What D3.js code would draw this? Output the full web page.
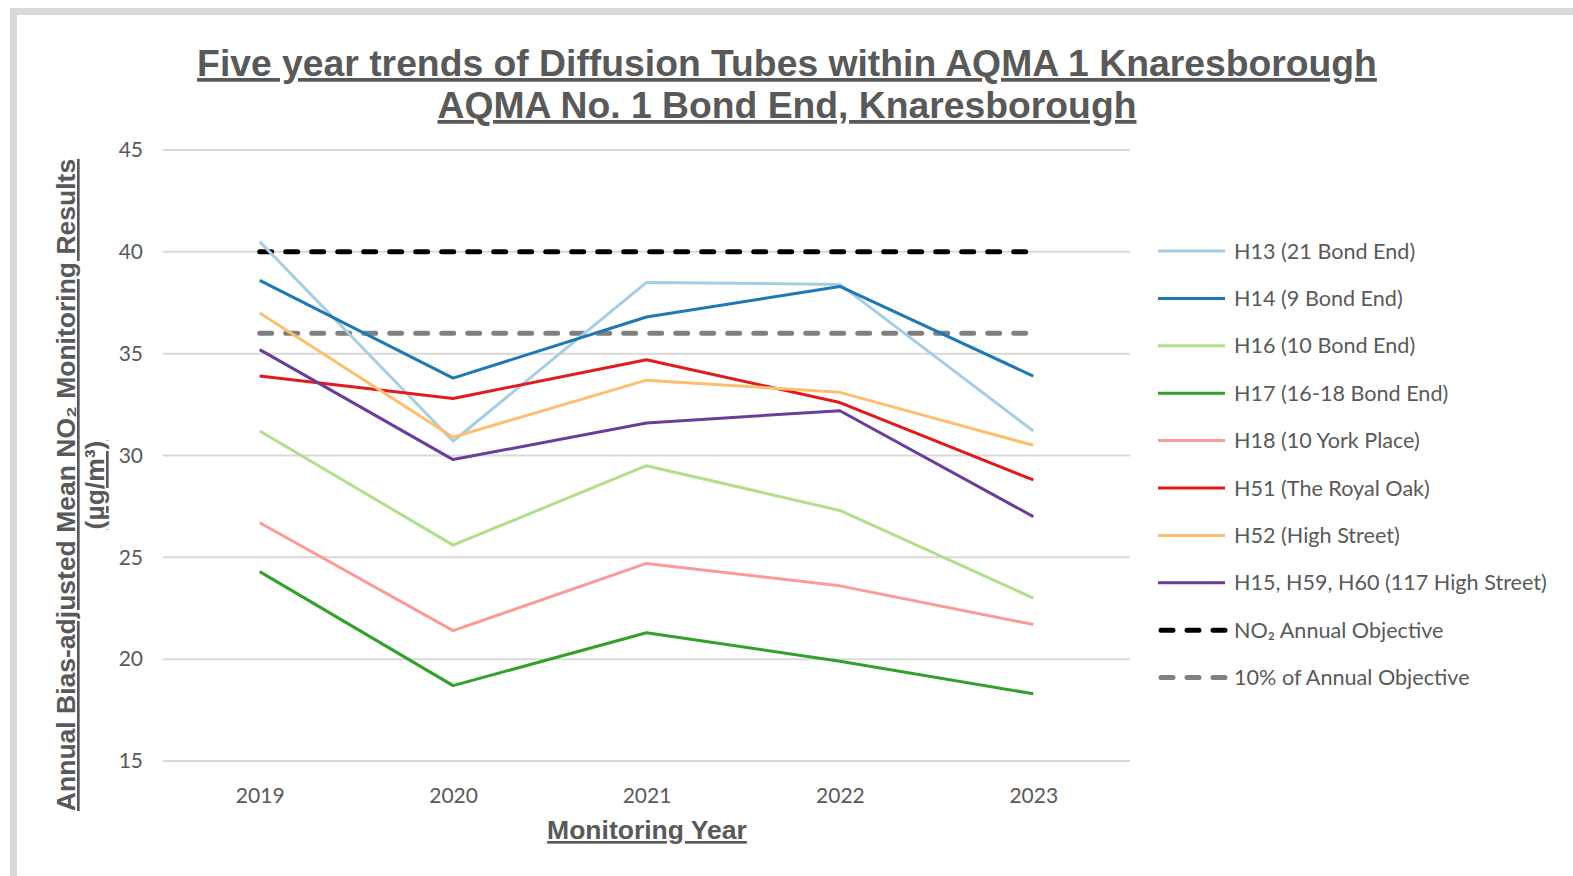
<!DOCTYPE html>
<html>
<head>
<meta charset="utf-8">
<script src="https://cdn.jsdelivr.net/npm/d3@7"></script>
<style>
  body { margin: 0; background: #fff; }
  text { fill: #595959; }
</style>
</head>
<body>
<div id="chart"></div>
<script>
var width = 1573, height = 876;

// data
var years = ["2019", "2020", "2021", "2022", "2023"];
var seriesNames = ["H13 (21 Bond End)", "H14 (9 Bond End)", "H16 (10 Bond End)", "H17 (16-18 Bond End)",
                   "H18 (10 York Place)", "H51 (The Royal Oak)", "H52 (High Street)", "H15, H59, H60 (117 High Street)"];
var h13 = [40.5, 30.7, 38.5, 38.4, 31.2];
var h14 = [38.6, 33.8, 36.8, 38.3, 33.9];
var h16 = [31.2, 25.6, 29.5, 27.3, 23.0];
var h17 = [24.3, 18.7, 21.3, 19.9, 18.3];
var h18 = [26.7, 21.4, 24.7, 23.6, 21.7];
var h51 = [33.9, 32.8, 34.7, 32.6, 28.8];
var h52 = [37.0, 30.9, 33.7, 33.1, 30.5];
var h15 = [35.2, 29.8, 31.6, 32.2, 27.0];
var objective = [40, 40, 40, 40, 40];
var objective10 = [36, 36, 36, 36, 36];
var yTicks = [15, 20, 25, 30, 35, 40, 45];

var seriesColors = ["#a6cee3", "#1f78b4", "#b2df8a", "#33a02c", "#fb9a99", "#e31a1c", "#fdbf6f", "#6a3d9a"];

var series = [h13, h14, h16, h17, h18, h51, h52, h15].map(function(v, i) {
  return {name: seriesNames[i], values: v, color: seriesColors[i], dash: null, width: 3};
});
var refLines = [
  {name: "NO\u2082 Annual Objective", values: objective, color: "#000", dash: "12,14", width: 5},
  {name: "10% of Annual Objective", values: objective10, color: "#808080", dash: "12,14", width: 5}
];

var svg = d3.select("#chart").append("svg")
    .attr("width", width)
    .attr("height", height);

// frame
svg.append("rect")
    .attr("x", 13.5).attr("y", 11.5)
    .attr("width", width + 20).attr("height", height + 20)
    .attr("fill", "none")
    .attr("stroke", "#d9d9d9")
    .attr("stroke-width", 7);

var x = d3.scalePoint().domain(years).range([163, 1130]).padding(0.5);
var y = d3.scaleLinear().domain([15, 45]).range([761, 150]);

// gridlines
svg.append("g")
  .selectAll("line")
  .data(yTicks)
  .enter().append("line")
    .attr("x1", 163).attr("x2", 1130)
    .attr("y1", function(d) { return y(d); })
    .attr("y2", function(d) { return y(d); })
    .attr("stroke", "#d9d9d9")
    .attr("stroke-width", 2);

var yAxis = svg.append("g")
    .attr("transform", "translate(163,0)")
    .call(d3.axisLeft(y).tickValues(yTicks).tickSize(0).tickPadding(20));
yAxis.select(".domain").remove();
yAxis.selectAll("text")
    .style("font-family", "Lato")
    .style("font-size", "21px")
    .attr("fill", "#595959");

var xAxis = svg.append("g")
    .attr("transform", "translate(0,761)")
    .call(d3.axisBottom(x).tickSize(0).tickPadding(27));
xAxis.select(".domain").remove();
xAxis.selectAll("text")
    .style("font-family", "Lato")
    .style("font-size", "21px")
    .attr("fill", "#595959");

var line = d3.line()
    .x(function(d, i) { return x(years[i]); })
    .y(function(d) { return y(d); });

svg.append("g")
  .selectAll("path")
  .data(refLines.concat(series))
  .enter().append("path")
    .attr("d", function(d) { return line(d.values); })
    .attr("fill", "none")
    .attr("stroke", function(d) { return d.color; })
    .attr("stroke-width", function(d) { return d.width; })
    .attr("stroke-dasharray", function(d) { return d.dash; })
    .attr("stroke-linecap", function(d) { return d.dash ? "round" : "butt"; })
    .attr("stroke-linejoin", "round");

// legend
var legend = svg.append("g")
  .selectAll("g")
  .data(series.concat(refLines))
  .enter().append("g")
    .attr("transform", function(d, i) { return "translate(1158," + (251 + i * 47.4) + ")"; });

legend.append("line")
    .attr("x1", function(d) { return d.dash ? 3 : 0; })
    .attr("x2", 67)
    .attr("stroke", function(d) { return d.color; })
    .attr("stroke-width", function(d) { return d.dash ? 5 : 3; })
    .attr("stroke-dasharray", function(d) { return d.dash ? "12,14" : null; })
    .attr("stroke-linecap", function(d) { return d.dash ? "round" : "butt"; });

legend.append("text")
    .attr("x", 76)
    .attr("dy", "0.35em")
    .style("font-family", "Lato")
    .style("font-size", "21.6px")
    .text(function(d) { return d.name; });

// titles
var title = svg.append("text")
    .attr("text-anchor", "middle")
    .style("font-family", "Liberation Sans, Arial")
    .style("font-weight", "bold")
    .style("font-size", "37.3px")
    .style("text-decoration", "underline");
title.append("tspan").attr("x", 787).attr("y", 76)
    .text("Five year trends of Diffusion Tubes within AQMA 1 Knaresborough");
title.append("tspan").attr("x", 787).attr("y", 118)
    .text("AQMA No. 1 Bond End, Knaresborough");

svg.append("text")
    .attr("x", 647).attr("y", 839)
    .attr("text-anchor", "middle")
    .style("font-family", "Liberation Sans, Arial")
    .style("font-weight", "bold")
    .style("font-size", "26.5px")
    .style("text-decoration", "underline")
    .text("Monitoring Year");

var ylab = svg.append("text")
    .attr("transform", "translate(0,485) rotate(-90)")
    .attr("text-anchor", "middle")
    .style("font-family", "Liberation Sans, Arial")
    .style("font-weight", "bold")
    .style("font-size", "26.5px")
    .style("text-decoration", "underline");
ylab.append("tspan").attr("x", 0).attr("y", 75)
    .text("Annual Bias-adjusted Mean NO\u2082 Monitoring Results");
ylab.append("tspan").attr("x", 0).attr("y", 104)
    .text("(\u00b5g/m\u00b3)");
</script>
</body>
</html>
